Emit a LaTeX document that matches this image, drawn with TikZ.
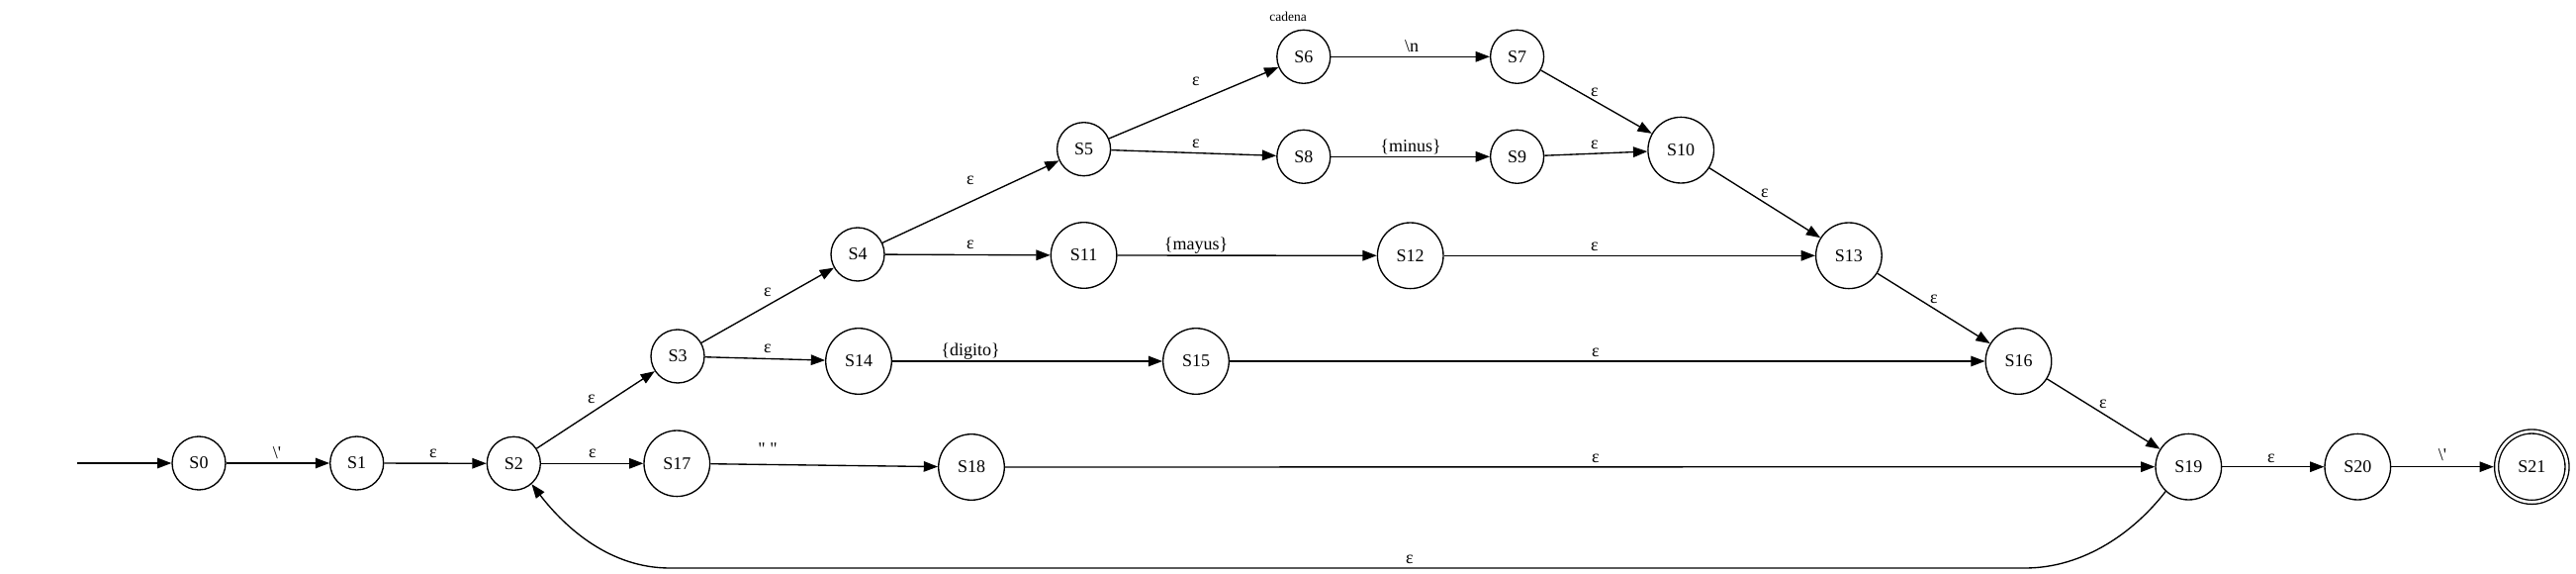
\documentclass[tikz,border=0pt]{standalone}
\usepackage{fontspec}
\newfontfamily\tfont{Liberation Serif}
\usetikzlibrary{arrows.meta}
\begin{document}
\begin{tikzpicture}[x=0.6667pt,y=-0.6667pt,
  state/.style={circle,draw,line width=0.9pt,minimum size=36pt,inner sep=0pt,font=\tfont\fontsize{12}{14}\selectfont},
  bigstate/.style={state,minimum size=44.4pt},
  accept/.style={state,minimum size=47.6pt,double,double distance=1.8pt,outer sep=1.9pt},
  edge/.style={line width=0.9pt,-{Triangle[length=9.5pt,width=7pt]}},
  lbl/.style={font=\tfont\fontsize{12}{14}\selectfont,inner sep=0pt},
  small/.style={font=\tfont\fontsize{9}{10}\selectfont,inner sep=0pt}]
\useasboundingbox (0,0) rectangle (2604,580);
% nodes
\node[state] (S0) at (201,468) {S0};
\node[state] (S1) at (360.7,468) {S1};
\node[state] (S2) at (519.3,468.3) {S2};
\node[state] (S3) at (685,360) {S3};
\node[state] (S4) at (867,257) {S4};
\node[state] (S5) at (1095.6,150.7) {S5};
\node[state] (S6) at (1317.8,57.3) {S6};
\node[state] (S7) at (1533.6,57.3) {S7};
\node[state] (S8) at (1317.8,158.3) {S8};
\node[state] (S9) at (1533.6,158.3) {S9};
\node[bigstate] (S10) at (1699.2,151.7) {S10};
\node[bigstate] (S11) at (1095.6,258) {S11};
\node[bigstate] (S12) at (1425.7,258.3) {S12};
\node[bigstate] (S13) at (1868.9,258.3) {S13};
\node[bigstate] (S14) at (868,365) {S14};
\node[bigstate] (S15) at (1209,365) {S15};
\node[bigstate] (S16) at (2040.5,365) {S16};
\node[bigstate] (S17) at (684.3,468.3) {S17};
\node[bigstate] (S18) at (982,472) {S18};
\node[bigstate] (S19) at (2212.3,471.7) {S19};
\node[bigstate] (S20) at (2383.3,471.7) {S20};
\node[accept] (S21) at (2559.3,471.7) {S21};
\node[small] (cad) at (1302,17) {cadena};
\coordinate (start) at (78,468);
% edges
\draw[edge] (start) -- (S0);
\draw[edge] (S0) -- (S1) node[lbl] at (280,458) {\textbackslash'};
\draw[edge] (S1) -- (S2) node[lbl] at (438,458) {ε};
\draw[edge] (S2) -- (S3) node[lbl] at (598,403) {ε};
\draw[edge] (S2) -- (S17) node[lbl] at (599,458) {ε};
\draw[edge] (S3) -- (S4) node[lbl] at (776,295) {ε};
\draw[edge] (S3) -- (S14) node[lbl] at (776,352) {ε};
\draw[edge] (S17) -- (S18) node[lbl] at (776,454) {" "};
\draw[edge] (S14) -- (S15) node[lbl] at (981,355) {\{digito\}};
\draw[edge] (S4) -- (S5) node[lbl] at (981,182) {ε};
\draw[edge] (S4) -- (S11) node[lbl] at (981,247) {ε};
\draw[edge] (S11) -- (S12) node[lbl] at (1209,248) {\{mayus\}};
\draw[edge] (S5) -- (S6) node[lbl] at (1209,82) {ε};
\draw[edge] (S5) -- (S8) node[lbl] at (1209,145) {ε};
\draw[edge] (S6) -- (S7) node[lbl] at (1427,47) {\textbackslash n};
\draw[edge] (S8) -- (S9) node[lbl] at (1426,148) {\{minus\}};
\draw[edge] (S7) -- (S10) node[lbl] at (1612,93) {ε};
\draw[edge] (S9) -- (S10) node[lbl] at (1612,146) {ε};
\draw[edge] (S12) -- (S13) node[lbl] at (1612,249) {ε};
\draw[edge] (S10) -- (S13) node[lbl] at (1784,195) {ε};
\draw[edge] (S13) -- (S16) node[lbl] at (1955,302) {ε};
\draw[edge] (S15) -- (S16) node[lbl] at (1613,356) {ε};
\draw[edge] (S16) -- (S19) node[lbl] at (2126,408) {ε};
\draw[edge] (S18) -- (S19) node[lbl] at (1613,463) {ε};
\draw[edge] (S19) -- (S20) node[lbl] at (2296,463) {ε};
\draw[edge] (S20) -- (S21) node[lbl] at (2469,460) {\textbackslash'};
\draw[edge] (S19.-133) .. controls (2158,537) and (2107,574) .. (2047,574)
  -- (677,574) node[lbl] at (1425,565) {ε}
  .. controls (617,574) and (572,534) .. (S2.-49);
\end{tikzpicture}
\end{document}
